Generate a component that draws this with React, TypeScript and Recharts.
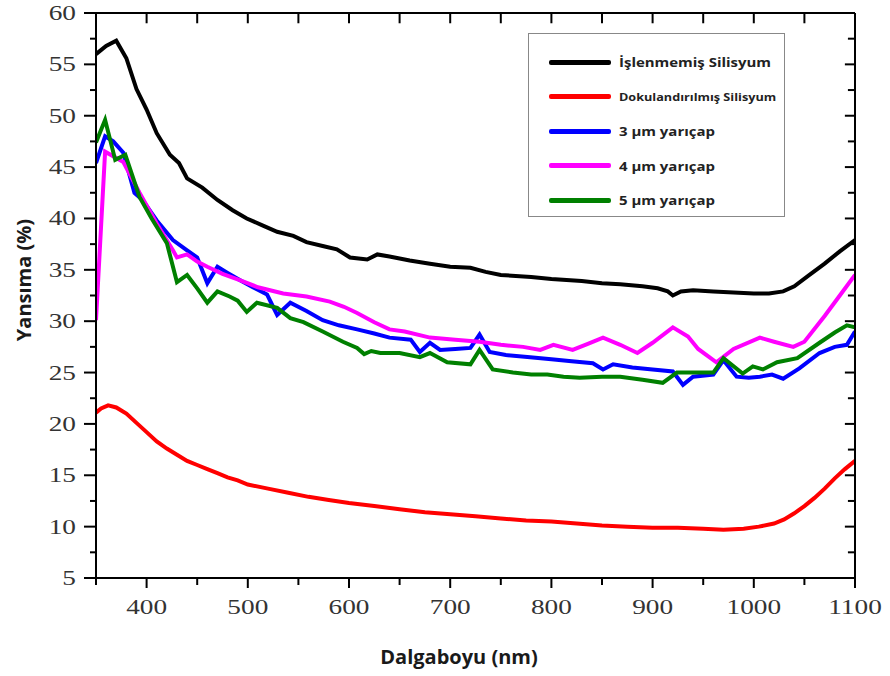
import React from 'react'
import { LineChart, Line, XAxis, YAxis, ReferenceLine } from 'recharts'

// wavelengths (nm) and reflectance (%)
const untreatedX = [350, 360, 370, 380, 390, 400, 410, 423, 432, 440, 455, 470, 485, 499, 515, 529, 545, 558, 575, 588, 601, 618, 628, 640, 660, 680, 700, 720, 735, 750, 780, 800, 830, 850, 868, 890, 905, 915, 920, 928, 940, 960, 980, 1000, 1015, 1029, 1040, 1055, 1070, 1085, 1100]
const untreatedY = [56.0, 56.8, 57.3, 55.6, 52.6, 50.6, 48.3, 46.2, 45.4, 43.9, 43.0, 41.8, 40.8, 40.0, 39.3, 38.7, 38.3, 37.7, 37.3, 37.0, 36.2, 36.0, 36.5, 36.3, 35.9, 35.6, 35.3, 35.2, 34.8, 34.5, 34.3, 34.1, 33.9, 33.7, 33.6, 33.4, 33.2, 32.9, 32.5, 32.9, 33.0, 32.9, 32.8, 32.7, 32.7, 32.9, 33.4, 34.5, 35.6, 36.8, 37.9]

const texturedX = [350, 355, 362, 370, 380, 390, 400, 410, 420, 430, 440, 450, 460, 470, 480, 490, 500, 520, 540, 560, 580, 600, 625, 650, 675, 700, 725, 750, 775, 800, 825, 850, 875, 900, 925, 950, 970, 990, 1005, 1020, 1030, 1040, 1050, 1060, 1070, 1080, 1090, 1100]
const texturedY = [21.1, 21.5, 21.8, 21.6, 21.0, 20.1, 19.2, 18.3, 17.6, 17.0, 16.4, 16.0, 15.6, 15.2, 14.8, 14.5, 14.1, 13.7, 13.3, 12.9, 12.6, 12.3, 12.0, 11.7, 11.4, 11.2, 11.0, 10.8, 10.6, 10.5, 10.3, 10.1, 10.0, 9.9, 9.9, 9.8, 9.7, 9.8, 10.0, 10.3, 10.7, 11.3, 12.0, 12.8, 13.7, 14.7, 15.6, 16.4]

const r3X = [350, 359, 367, 377, 388, 396, 410, 426, 440, 450, 460, 470, 480, 492, 505, 519, 524, 529, 542, 558, 574, 590, 608, 625, 640, 661, 670, 680, 690, 705, 720, 729, 739, 755, 779, 800, 820, 841, 851, 861, 880, 900, 920, 930, 940, 960, 970, 983, 995, 1006, 1018, 1029, 1045, 1065, 1080, 1092, 1100]
const r3Y = [45.4, 48.0, 47.5, 46.4, 42.5, 41.8, 39.8, 37.9, 36.9, 36.2, 33.7, 35.3, 34.7, 34.0, 33.3, 32.6, 31.6, 30.6, 31.8, 31.0, 30.1, 29.6, 29.2, 28.8, 28.4, 28.2, 27.0, 27.9, 27.2, 27.3, 27.4, 28.7, 27.0, 26.7, 26.5, 26.3, 26.1, 25.9, 25.3, 25.8, 25.5, 25.3, 25.1, 23.8, 24.6, 24.8, 26.2, 24.6, 24.5, 24.6, 24.8, 24.4, 25.4, 26.9, 27.5, 27.7, 29.0]

const r4X = [350, 359, 377, 393, 410, 426, 430, 440, 450, 460, 475, 492, 510, 535, 558, 581, 595, 608, 625, 640, 655, 680, 705, 729, 750, 772, 789, 802, 821, 836, 851, 868, 885, 900, 920, 935, 945, 963, 980, 1006, 1020, 1039, 1050, 1070, 1085, 1100]
const r4Y = [30.1, 46.5, 45.5, 42.5, 39.5, 36.9, 36.2, 36.5, 35.8, 35.3, 34.6, 34.0, 33.3, 32.7, 32.4, 31.9, 31.4, 30.8, 29.9, 29.2, 29.0, 28.4, 28.2, 28.0, 27.7, 27.5, 27.2, 27.7, 27.2, 27.8, 28.4, 27.7, 26.9, 27.9, 29.4, 28.5, 27.3, 26.0, 27.3, 28.4, 28.0, 27.5, 28.0, 30.5, 32.5, 34.5]

const r5X = [350, 359, 369, 379, 393, 405, 420, 430, 440, 450, 460, 470, 482, 490, 499, 509, 529, 542, 555, 574, 594, 608, 615, 622, 631, 650, 670, 680, 697, 720, 729, 742, 762, 780, 796, 812, 828, 850, 868, 890, 910, 924, 945, 960, 970, 989, 999, 1009, 1023, 1043, 1065, 1080, 1092, 1100]
const r5Y = [47.4, 49.6, 45.7, 46.2, 42.1, 40.0, 37.6, 33.8, 34.5, 33.2, 31.8, 32.9, 32.4, 32.0, 30.9, 31.8, 31.3, 30.3, 29.9, 29.0, 28.0, 27.4, 26.8, 27.1, 26.9, 26.9, 26.5, 26.9, 26.0, 25.8, 27.2, 25.3, 25.0, 24.8, 24.8, 24.6, 24.5, 24.6, 24.6, 24.3, 24.0, 25.0, 25.0, 25.0, 26.4, 24.9, 25.6, 25.3, 26.0, 26.4, 27.9, 28.9, 29.6, 29.4]

const xTicks = [350, 400, 450, 500, 550, 600, 650, 700, 750, 800, 850, 900, 950, 1000, 1050, 1100]
const yTicks = [5, 7.5, 10, 12.5, 15, 17.5, 20, 22.5, 25, 27.5, 30, 32.5, 35, 37.5, 40, 42.5, 45, 47.5, 50, 52.5, 55, 57.5, 60]

const series = [
  { name: 'İşlenmemiş Silisyum', color: '#000000', xs: untreatedX, ys: untreatedY, size: 13 },
  { name: 'Dokulandırılmış Silisyum', color: '#ff0000', xs: texturedX, ys: texturedY, size: 11 },
  { name: '3 μm yarıçap', color: '#0000ff', xs: r3X, ys: r3Y, size: 13 },
  { name: '4 μm yarıçap', color: '#ff00ff', xs: r4X, ys: r4Y, size: 13 },
  { name: '5 μm yarıçap', color: '#008000', xs: r5X, ys: r5Y, size: 13 },
]

// inward mirror ticks on the top and right frame, length in axis units
const TOP_TICK_LEN = 1
const RIGHT_MAJOR_LEN = 10
const RIGHT_MINOR_LEN = 7

const toPoints = (xs: number[], ys: number[]) => xs.map((x, i) => ({ x, y: ys[i] }))

const numStyle = { fontFamily: '"Liberation Serif", serif', fontSize: 21, fill: '#333' }
const titleStyle = { fontFamily: '"Open Sans", sans-serif', fontWeight: 700, fontSize: 20, fill: '#1a1a1a' }

const BottomTick = ({ x, y, payload }: any) => {
  const major = payload.value % 100 === 0
  return (
    <g>
      <line x1={x} x2={x} y1={y} y2={y + (major ? 10 : 7)} stroke="#000" strokeWidth={2} />
      {major && (
        <text transform={`translate(${x},${y + 36}) scale(1.3,1)`} textAnchor="middle" style={numStyle}>
          {payload.value}
        </text>
      )}
    </g>
  )
}

const LeftTick = ({ x, y, payload }: any) => {
  const major = payload.value % 5 === 0
  return (
    <g>
      <line x1={x} x2={x - (major ? 12 : 6)} y1={y} y2={y} stroke="#000" strokeWidth={2} />
      {major && (
        <text transform={`translate(${x - 20},${y + 7}) scale(1.3,1)`} textAnchor="end" style={numStyle}>
          {payload.value}
        </text>
      )}
    </g>
  )
}

function LegendBox() {
  return (
    <div
      style={{
        position: 'absolute',
        left: 528,
        top: 33,
        width: 257,
        height: 184,
        border: '1.5px solid #888',
        background: '#fff',
        boxSizing: 'border-box',
        paddingTop: 11,
      }}
    >
      {series.map(s => (
        <div key={s.name} style={{ display: 'flex', alignItems: 'center', height: 34.5 }}>
          <div style={{ width: 62, height: 5, background: s.color, marginLeft: 20, marginRight: 8, borderRadius: 2 }} />
          <span
            style={{
              display: 'inline-block',
              fontFamily: '"Open Sans", sans-serif',
              fontWeight: 700,
              fontSize: s.size,
              color: '#222',
              transform: 'scaleX(1.15)',
              transformOrigin: 'left center',
              whiteSpace: 'nowrap',
            }}
          >
            {s.name}
          </span>
        </div>
      ))}
    </div>
  )
}

export default function App() {
  const xMin = xTicks[0]
  const xMax = xTicks[xTicks.length - 1]
  const yMin = yTicks[0]
  const yMax = yTicks[yTicks.length - 1]
  return (
    <div style={{ position: 'absolute', left: 0, top: 0, width: 890, height: 676, background: '#fff' }}>
      <LineChart width={890} height={676} margin={{ top: 3, right: 25, bottom: 68, left: 36 }}>
        <XAxis
          xAxisId="bottom"
          dataKey="x"
          type="number"
          domain={[xMin, xMax]}
          allowDataOverflow
          ticks={xTicks}
          interval={0}
          tickSize={0}
          tickMargin={0}
          tick={<BottomTick />}
          axisLine={{ stroke: '#000', strokeWidth: 2 }}
          allowDuplicatedCategory={false}
          height={30}
        />
        <XAxis
          xAxisId="top"
          orientation="top"
          type="number"
          domain={[xMin, xMax]}
          tick={false}
          tickLine={false}
          axisLine={{ stroke: '#000', strokeWidth: 2 }}
          height={10}
        />
        <YAxis
          yAxisId="left"
          type="number"
          domain={[yMin, yMax]}
          allowDataOverflow
          ticks={yTicks}
          interval={0}
          tickSize={0}
          tickMargin={0}
          tick={<LeftTick />}
          axisLine={{ stroke: '#000', strokeWidth: 2 }}
          width={60}
        />
        <YAxis
          yAxisId="right"
          orientation="right"
          type="number"
          domain={[yMin, yMax]}
          tick={false}
          tickLine={false}
          axisLine={{ stroke: '#000', strokeWidth: 2 }}
          width={10}
        />
        {xTicks
          .filter(t => t !== xMin && t !== xMax)
          .map(t => (
            <ReferenceLine
              key={`tx${t}`}
              xAxisId="bottom"
              yAxisId="left"
              segment={[{ x: t, y: yMax }, { x: t, y: yMax - TOP_TICK_LEN }]}
              stroke="#000"
              strokeWidth={2}
              ifOverflow="visible"
            />
          ))}
        {yTicks
          .filter(t => t !== yMin && t !== yMax)
          .map(t => (
            <ReferenceLine
              key={`ty${t}`}
              xAxisId="bottom"
              yAxisId="left"
              segment={[{ x: xMax, y: t }, { x: xMax - (t % 5 === 0 ? RIGHT_MAJOR_LEN : RIGHT_MINOR_LEN), y: t }]}
              stroke="#000"
              strokeWidth={2}
              ifOverflow="visible"
            />
          ))}
        {series.map(s => (
          <Line
            key={s.name}
            xAxisId="bottom"
            yAxisId="left"
            data={toPoints(s.xs, s.ys)}
            dataKey="y"
            name={s.name}
            type="linear"
            stroke={s.color}
            strokeWidth={4}
            dot={false}
            activeDot={false}
            isAnimationActive={false}
          />
        ))}
        <text x={459} y={664} textAnchor="middle" style={titleStyle}>
          Dalgaboyu (nm)
        </text>
        <text transform="translate(31,280) rotate(-90)" textAnchor="middle" style={titleStyle}>
          Yansıma (%)
        </text>
      </LineChart>
      <LegendBox />
    </div>
  )
}
